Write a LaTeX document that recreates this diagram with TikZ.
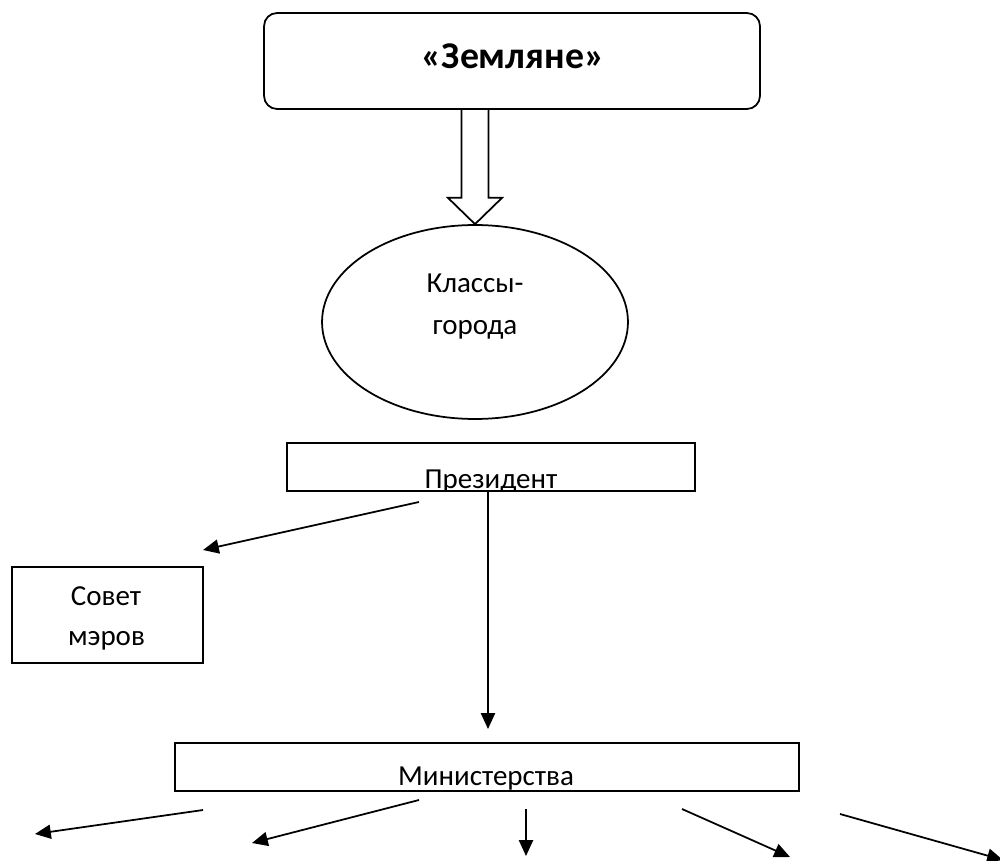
\documentclass[tikz,border=0pt]{standalone}
\usepackage{fontspec}
\setmainfont{Carlito}
\usetikzlibrary{shapes.geometric,arrows.meta,calc}
\begin{document}
\begin{tikzpicture}[x=0.02cm,y=-0.02cm,
  box/.style={draw,line width=1pt,inner sep=0pt},
  lbl/.style={font=\fontsize{16.5}{24}\selectfont,inner sep=0pt,anchor=base},
  arr/.style={line width=1pt,-{Triangle[length=9pt,width=8pt]}}]
\useasboundingbox (0,0) rectangle (1000,861);

% top rounded box
\node[box,rounded corners=0.26cm,minimum width=9.92cm,minimum height=1.92cm] (top) at (512,61) {};
\node[font=\bfseries\fontsize{21.5}{26}\selectfont,inner sep=0pt,anchor=base] (title) at (513,69) {«Земляне»};

% ellipse
\node[box,ellipse,minimum width=6.12cm,minimum height=3.88cm] (cls) at (475,322) {};
\node[lbl] (cls1) at (475,293) {Классы-};
\node[lbl] (cls2) at (475,335) {города};

% hollow block arrow
\coordinate (ba) at (top.south -| cls.north);
\draw[line width=1pt,line join=miter]
  ($(ba)+(-13.5,0)$) -- ($(ba)+(-13.5,88)$) -- ($(ba)+(-27,88)$) -- (cls.north)
  -- ($(ba)+(27,88)$) -- ($(ba)+(13.5,88)$) -- ($(ba)+(13.5,0)$);

% president
\node[box,minimum width=8.16cm,minimum height=0.96cm] (pres) at (491,467) {};
\begin{scope}
  \clip (pres.north west) rectangle ([yshift=0.6pt]pres.south east);
  \node[lbl] (prest) at (491,488) {Президент};
\end{scope}

% council of mayors
\node[box,minimum width=3.82cm,minimum height=1.92cm] (sov) at (107.5,615) {};
\node[lbl] (sov1) at (106,605) {Совет};
\node[lbl] (sov2) at (106.5,645) {мэров};

% ministries
\node[box,minimum width=12.48cm,minimum height=0.96cm] (min) at (487,767) {};
\begin{scope}
  \clip (min.north west) rectangle ([yshift=1.5pt]min.south east);
  \node[lbl] (mint) at (486,785) {Министерства};
\end{scope}

% connectors
\coordinate (p1) at (419,502);
\coordinate (s1) at (203,550);
\draw[arr] (p1) -- (s1);

\coordinate (m0) at (488,729);
\draw[arr] (m0 |- pres.south) -- (m0);

\coordinate (a1) at (203,810); \coordinate (b1) at (35,834);
\coordinate (a2) at (419,800); \coordinate (b2) at (252,843);
\coordinate (a3) at (526,809); \coordinate (b3) at (526,856);
\coordinate (a4) at (682,809); \coordinate (b4) at (790,857);
\coordinate (a5) at (840,814); \coordinate (b5) at (1003,860);
\draw[arr] (a1) -- (b1);
\draw[arr] (a2) -- (b2);
\draw[arr] (a3) -- (b3);
\draw[arr] (a4) -- (b4);
\draw[arr] (a5) -- (b5);
\end{tikzpicture}
\end{document}
